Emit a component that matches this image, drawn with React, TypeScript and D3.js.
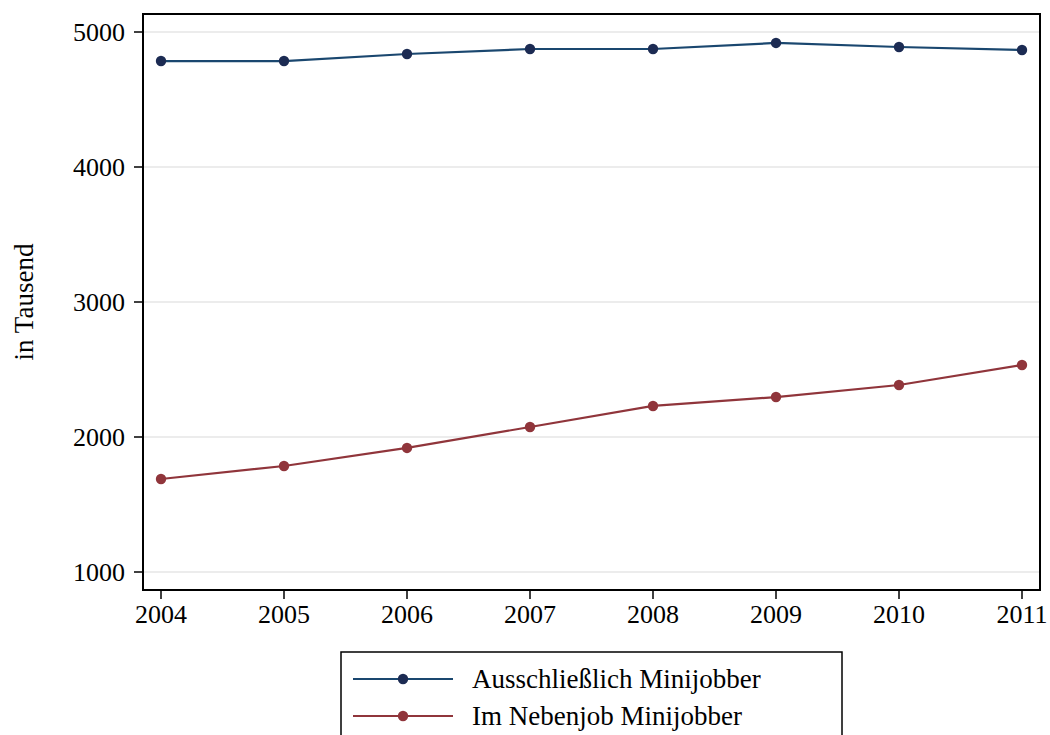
import * as d3 from 'd3';

const years = [2004, 2005, 2006, 2007, 2008, 2009, 2010, 2011];
const ausschliesslich = [4785, 4785, 4837, 4874, 4874, 4919, 4889, 4867];
const nebenjob = [1689, 1785, 1919, 2074, 2230, 2296, 2385, 2533];
const yTicks = [1000, 2000, 3000, 4000, 5000];

const series = [
  { name: 'Ausschließlich Minijobber', values: ausschliesslich, line: '#1a476f', dot: '#1c2b53' },
  { name: 'Im Nebenjob Minijobber', values: nebenjob, line: '#90353b', dot: '#90353b' },
];

const font = '"Liberation Serif", "Times New Roman", serif';

export default function App() {
  const width = 1050;
  const height = 735;
  const plot = { left: 143, top: 14, right: 1040, bottom: 590 };

  const x = d3.scaleLinear()
    .domain([2004, 2011])
    .range([161, 1022]);
  const y = d3.scaleLinear()
    .domain([1000, 5000])
    .range([572, 32]);

  const line = d3.line<number>()
    .x((_, i) => x(years[i]))
    .y((d) => y(d));

  return (
    <svg width={width} height={height} style={{ position: 'absolute', left: 0, top: 0, background: '#fff' }}
      fontFamily={font}>
      <rect x={0} y={0} width={width} height={height} fill="#fff" />

      {/* gridlines */}
      {yTicks.map((t) => (
        <line key={t} x1={plot.left} x2={plot.right} y1={y(t)} y2={y(t)} stroke="#e6e6e6" strokeWidth={1.5} />
      ))}

      {/* series */}
      {series.map((s) => (
        <g key={s.name}>
          <path d={line(s.values) ?? ''} fill="none" stroke={s.line} strokeWidth={2.2} />
          {s.values.map((v, i) => (
            <circle key={i} cx={x(years[i])} cy={y(v)} r={5.2} fill={s.dot} />
          ))}
        </g>
      ))}

      {/* frame */}
      <rect x={plot.left} y={plot.top} width={plot.right - plot.left} height={plot.bottom - plot.top}
        fill="none" stroke="#000" strokeWidth={2} />

      {/* y axis */}
      {yTicks.map((t) => (
        <g key={t}>
          <line x1={plot.left - 9} x2={plot.left} y1={y(t)} y2={y(t)} stroke="#000" strokeWidth={1.5} />
          <text x={plot.left - 18} y={y(t)} dy="0.34em" textAnchor="end" fontSize={26}>{t}</text>
        </g>
      ))}

      {/* x axis */}
      {years.map((yr) => (
        <g key={yr}>
          <line x1={x(yr)} x2={x(yr)} y1={plot.bottom} y2={plot.bottom + 9} stroke="#000" strokeWidth={1.5} />
          <text x={x(yr)} y={623} textAnchor="middle" fontSize={26}>{yr}</text>
        </g>
      ))}

      <text transform={`translate(33,${(plot.top + plot.bottom) / 2}) rotate(-90)`} textAnchor="middle" fontSize={27}>
        in Tausend
      </text>

      {/* legend */}
      <rect x={341} y={652} width={501} height={100} fill="#fff" stroke="#000" strokeWidth={1.5} />
      {series.map((s, i) => {
        const ly = 679 + i * 37;
        return (
          <g key={s.name}>
            <line x1={353} x2={453} y1={ly} y2={ly} stroke={s.line} strokeWidth={2.2} />
            <circle cx={403} cy={ly} r={5.2} fill={s.dot} />
            <text x={472} y={ly} dy="0.34em" fontSize={27}>{s.name}</text>
          </g>
        );
      })}
    </svg>
  );
}
